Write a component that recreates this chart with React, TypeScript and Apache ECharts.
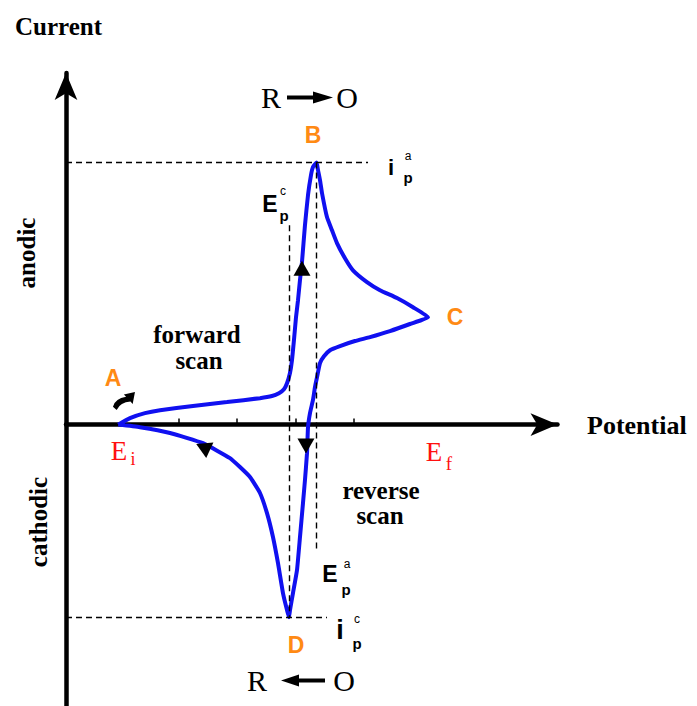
import React, { useEffect, useRef } from "react";
import * as echarts from "echarts";

// Potential (V) and current (µA)
const forwardScan: [number, number][] = [
  [-0.003, 0], [0.0171, 2.5], [0.0427, 4.4], [0.0684, 5.5], [0.1248, 7.1], [0.1829, 8.6],
  [0.2393, 10.1], [0.2598, 10.9], [0.2718, 12.0], [0.2803, 13.5], [0.2855, 15.8], [0.2906, 19.7],
  [0.294, 24.6], [0.2974, 32.3], [0.3009, 41.0], [0.3043, 47.5], [0.3077, 55.2], [0.3111, 62.0],
  [0.3162, 76.1], [0.3214, 87.6], [0.3265, 95.2], [0.3299, 98.3], [0.336, 100],
  [0.3385, 97.1], [0.3419, 93.3], [0.3453, 88.4], [0.3538, 79.2], [0.3624, 74.2], [0.3709, 69.3],
  [0.3846, 63.5], [0.3983, 58.9], [0.4222, 54.4], [0.4444, 51.3], [0.4735, 48.3], [0.5009, 44.8],
  [0.5265, 41.0],
];
const reverseScan: [number, number][] = [
  [0.4957, 38.4], [0.4615, 35.7], [0.4274, 33.4], [0.4017, 31.9], [0.3761, 30.0], [0.359, 28.4],
  [0.3487, 26.1], [0.3419, 23.5], [0.3368, 18.1], [0.3333, 14.3], [0.3299, 9.4], [0.3248, 4.4],
  [0.3214, -1.0], [0.3197, -10.9], [0.3162, -21.2], [0.3128, -30.0], [0.3077, -42.9], [0.3026, -55.5],
  [0.2957, -64.3], [0.2906, -70.8], [0.2889, -73.5],
  [0.2855, -70.8], [0.2786, -64.3], [0.2701, -52.9], [0.2615, -42.9], [0.2513, -33.8], [0.2393, -26.1],
  [0.2222, -20.0], [0.2051, -16.2], [0.188, -12.8], [0.1419, -7.1], [0.0855, -3.2], [0.0342, -1.0],
  [-0.003, 0],
];
const peakAnodic: [number, number] = [0.336, 100];
const peakCathodic: [number, number] = [0.2889, -73.5];
const potentialRange = [-0.0923, 0.7479];
const currentRange = [-107.4, 134.2];
const potentialTicks = [0.1, 0.2, 0.3, 0.4];
const dashEnds = { anodicH: 0.424, anodicVBottom: -47.9, cathodicVTop: 76.1, cathodicH: 0.3538 };
const directionMarkers = [
  { value: [0.3111, 59.7], rot: 0 },
  { value: [0.3179, -8.2], rot: 180 },
  { value: [0.1419, -8.6], rot: 65 },
];
const startMarker: [number, number] = [0.0068, 9.0];

const BLUE = "#1010f0";
const ORANGE = "#ff8a14";
const RED = "#ff1010";
const SERIF_B = 'bold 25px "Liberation Serif"';
const SANS_B = '"Liberation Sans"';

function txt(text: string, x: number, y: number, font: string, fill = "#000", align = "center", extra: any = {}) {
  return {
    type: "text",
    x,
    y,
    ...extra,
    style: { text, x: 0, y: 0, font, fill, textAlign: align, textVerticalAlign: "middle" },
    silent: true,
  };
}

export default function App() {
  const ref = useRef<HTMLDivElement>(null);
  useEffect(() => {
    const chart = echarts.init(ref.current!, null, { renderer: "svg" });
    const dash = { type: [6, 4], color: "#000", width: 1.4 };
    const option: any = {
      animation: false,
      backgroundColor: "#fff",
      grid: { left: 66, right: 139.5, top: 73, bottom: 0, containLabel: false, outerBoundsMode: "none" },
      xAxis: {
        type: "value",
        min: potentialRange[0],
        max: potentialRange[1],
        axisLine: { show: true, onZero: true, symbol: ["none", "arrow"], symbolSize: [17, 27], lineStyle: { color: "#000", width: 4.5 } },
        axisTick: { show: true, inside: true, length: 6, customValues: potentialTicks, lineStyle: { color: "#000", width: 1.5 } },
        axisLabel: { show: false },
        splitLine: { show: false },
      },
      yAxis: {
        type: "value",
        min: currentRange[0],
        max: currentRange[1],
        axisLine: { show: true, onZero: false, symbol: ["none", "arrow"], symbolSize: [17, 27], lineStyle: { color: "#000", width: 4.5 } },
        axisTick: { show: false },
        axisLabel: { show: false },
        splitLine: { show: false },
      },
      series: [
        {
          type: "line",
          data: [...forwardScan, ...reverseScan],
          showSymbol: false,
          smooth: 0.15,
          lineStyle: { color: BLUE, width: 4 },
          z: 3,
          markLine: {
            silent: true,
            symbol: ["none", "none"],
            label: { show: false },
            lineStyle: dash,
            data: [
              [{ coord: [potentialRange[0], peakAnodic[1]] }, { coord: [dashEnds.anodicH, peakAnodic[1]] }],
              [{ coord: [peakAnodic[0], peakAnodic[1]] }, { coord: [peakAnodic[0], dashEnds.anodicVBottom] }],
              [{ coord: [peakCathodic[0], dashEnds.cathodicVTop] }, { coord: [peakCathodic[0], peakCathodic[1]] }],
              [{ coord: [potentialRange[0], peakCathodic[1]] }, { coord: [dashEnds.cathodicH, peakCathodic[1]] }],
            ],
          },
        },
        {
          type: "scatter",
          data: directionMarkers.map((m) => ({ value: m.value, symbolRotate: m.rot })),
          symbol: "triangle",
          symbolSize: [17, 15],
          itemStyle: { color: "#000", opacity: 1 },
          z: 4,
        },
        {
          type: "scatter",
          data: [startMarker],
          symbol: "path://M1,15 Q3,8 13.5,6.3 L11.4,4.2 L22,2 L19.8,12.6 L17.7,10.5 Q8,11 4.5,18 Z",
          symbolSize: [22, 18],
          itemStyle: { color: "#000", opacity: 1 },
          z: 4,
        },
      ],
      graphic: [
        txt("Current", 15, 26, SERIF_B, "#000", "left"),
        txt("Potential", 587, 425, 'bold 26px "Liberation Serif"', "#000", "left"),
        txt("anodic", 26, 253, SERIF_B, "#000", "center", { rotation: Math.PI / 2 }),
        txt("cathodic", 38, 522, SERIF_B, "#000", "center", { rotation: Math.PI / 2 }),
        txt("forward", 197, 334, SERIF_B),
        txt("scan", 199, 360, SERIF_B),
        txt("reverse", 381, 490, SERIF_B),
        txt("scan", 380, 515, SERIF_B),
        txt("R", 271, 97, '30px "Liberation Serif"'),
        txt("O", 347, 97, '30px "Liberation Serif"'),
        { type: "line", shape: { x1: 287, y1: 97.5, x2: 316, y2: 97.5 }, style: { stroke: "#000", lineWidth: 4 }, silent: true },
        { type: "polygon", shape: { points: [[313, 91.5], [333, 97.5], [313, 103.5]] }, style: { fill: "#000" }, silent: true },
        txt("R", 257, 680, '30px "Liberation Serif"'),
        txt("O", 344, 680, '30px "Liberation Serif"'),
        { type: "line", shape: { x1: 296, y1: 680.5, x2: 325, y2: 680.5 }, style: { stroke: "#000", lineWidth: 4 }, silent: true },
        { type: "polygon", shape: { points: [[299, 674.5], [281, 680.5], [299, 686.5]] }, style: { fill: "#000" }, silent: true },
        txt("A", 113, 378, `bold 23px ${SANS_B}`, ORANGE),
        txt("B", 313, 135, `bold 23px ${SANS_B}`, ORANGE),
        txt("C", 455, 317, `bold 23px ${SANS_B}`, ORANGE),
        txt("D", 296, 645, `bold 23px ${SANS_B}`, ORANGE),
        txt("E", 119, 451, '27px "Liberation Serif"', RED),
        txt("i", 133, 459, '18px "Liberation Serif"', RED),
        txt("E", 434, 452, '27px "Liberation Serif"', RED),
        txt("f", 449, 463, '19px "Liberation Serif"', RED),
        txt("E", 270, 204, `bold 23px ${SANS_B}`),
        txt("c", 283, 191, `12px ${SANS_B}`),
        txt("p", 284, 215, `bold 15px ${SANS_B}`),
        txt("i", 391, 167, `bold 22px ${SANS_B}`),
        txt("a", 408, 156, `12px ${SANS_B}`),
        txt("p", 408, 177, `bold 15px ${SANS_B}`),
        txt("E", 330, 574, `bold 23px ${SANS_B}`),
        txt("a", 347, 564, `12px ${SANS_B}`),
        txt("p", 346, 589, `bold 15px ${SANS_B}`),
        txt("i", 340, 630, `bold 27px ${SANS_B}`),
        txt("c", 357, 619, `12px ${SANS_B}`),
        txt("p", 357, 643, `bold 15px ${SANS_B}`),
      ],
    };
    chart.setOption(option);
    return () => chart.dispose();
  }, []);
  return <div ref={ref} style={{ position: "absolute", left: 0, top: 0, width: 697, height: 706 }} />;
}
